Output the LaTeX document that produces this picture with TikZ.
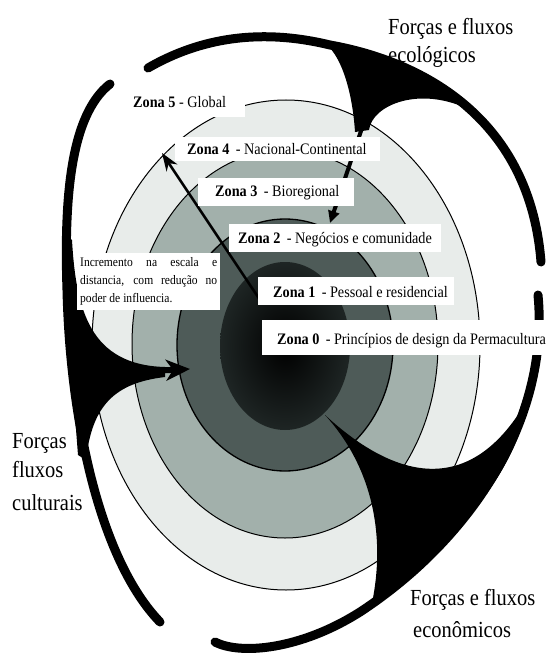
\documentclass[tikz,border=0pt]{standalone}
\usepackage{fontspec}
\setmainfont{Liberation Serif}[FakeStretch=0.89]
\usetikzlibrary{arrows.meta}
\definecolor{ringA}{HTML}{E8ECEA}
\definecolor{ringB}{HTML}{A2B0AB}
\definecolor{ringC}{HTML}{4E5B58}
\definecolor{coreOut}{HTML}{1E2524}
\begin{document}
\begin{tikzpicture}[x=1pt,y=-1pt,
  zlabel/.style={anchor=base west, inner sep=0pt, font=\fontsize{16}{18}\selectfont},
  bigtext/.style={anchor=base west, inner sep=0pt, font=\fontsize{23}{27}\selectfont},
  labelbox/.style={fill=white},
  force/.style={line width=9pt, line cap=round, draw=black},
  ring/.style={draw=black, line width=1pt}]
\useasboundingbox (0,0) rectangle (551,658);
\fill[white] (0,0) rectangle (551,658);

% zone rings
\filldraw[ring, fill=ringA] (286,345) ellipse [x radius=194, y radius=245];
\filldraw[ring, fill=ringB] (285,344) ellipse [x radius=153, y radius=194];
\filldraw[ring, fill=ringC, line width=1.3pt] (285,345) ellipse [x radius=108, y radius=126];
\shade[inner color=black, outer color=coreOut] (285,346) ellipse [x radius=65, y radius=84];

% ecological forces
\draw[force] (148,68) .. controls (200,38) and (260,28) .. (330,45) .. controls (425,62) and (530,120) .. (541,262);
\fill (330,48) .. controls (345,65) and (353,100) .. (355,132) -- (369,130) .. controls (372,105) and (420,85) .. (470,110) .. controls (430,80) and (380,55) .. (330,45) -- cycle;
\coordinate (ecoFrom) at (362,128);
\coordinate (ecoTo) at (330,223);
\draw[line width=4pt, -{Triangle[length=12pt,width=11pt]}] (ecoFrom) -- (ecoTo);

% cultural forces
\draw[force] (110,84) .. controls (70,115) and (64,200) .. (67,290) .. controls (70,420) and (100,560) .. (160,622);
\fill (66,235) -- (72,240) .. controls (76,310) and (90,365) .. (165,367) -- (165,377) .. controls (115,383) and (92,405) .. (86,460) -- (78,455) -- (66,300) -- cycle;
\coordinate (culFrom) at (150,371);
\coordinate (culTo) at (190,369);
\draw[line width=6pt, -{Stealth[length=24pt,width=21pt,inset=7pt]}] (culFrom) -- (culTo);

% economic forces
\draw[force] (538,295) .. controls (550,420) and (470,540) .. (360,612) .. controls (300,650) and (240,655) .. (215,642);
\fill (325,415) .. controls (390,475) and (470,505) .. (530,395) .. controls (515,480) and (450,545) .. (372,603) .. controls (385,540) and (375,470) .. (325,415) -- cycle;

% increment arrow
\coordinate (incFrom) at (260,300);
\coordinate (incTo) at (162,153);
\draw[line width=2.5pt, -{Stealth[length=18pt,width=13pt]}] (incFrom) -- (incTo);

% label boxes
\fill[labelbox] (122,87) rectangle (245,117);
\fill[labelbox] (175,137) rectangle (380,161);
\fill[labelbox] (198,178) rectangle (354,206);
\fill[labelbox] (229,224) rectangle (441,252);
\fill[labelbox] (258,277) rectangle (454,305);
\fill[labelbox] (262,320) rectangle (551,355);
\fill[labelbox] (77,253) rectangle (220,310);

\node[zlabel] (z5) at (133,107) {\textbf{Zona 5} - Global};
\node[zlabel] (z4) at (187,154) {\textbf{Zona 4}\, - Nacional-Continental};
\node[zlabel] (z3) at (215,196) {\textbf{Zona 3}\, - Bioregional};
\node[zlabel] (z2) at (238,243) {\textbf{Zona 2}\, - Negócios e comunidade};
\node[zlabel] (z1) at (273,297) {\textbf{Zona 1}\, - Pessoal e residencial};
\node[zlabel] (z0) at (277,344) {\textbf{Zona 0}\, - Princípios de design da Permacultura};

\node[anchor=north west, inner sep=0pt, text width=137pt, align=justify, font=\fontsize{13}{18}\selectfont] (incr) at (80,257) {Incremento na escala e\linebreak distancia, com redução no\linebreak poder de influencia.};

\node[bigtext] (eco1) at (388,35) {Forças e fluxos};
\node[bigtext] (eco2) at (388,63) {ecológicos};
\node[bigtext] (eon1) at (410,605) {Forças e fluxos};
\node[bigtext] (eon2) at (413,637) {econômicos};
\node[bigtext] (cul1) at (12,448) {Forças};
\node[bigtext] (cul2) at (12,477) {fluxos};
\node[bigtext] (cul3) at (12,510) {culturais};
\end{tikzpicture}
\end{document}
